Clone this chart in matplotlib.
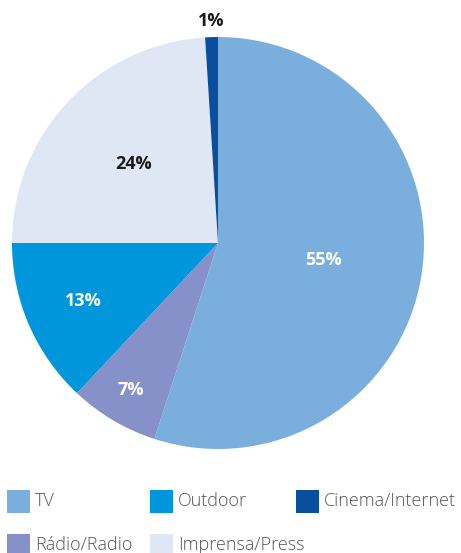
import numpy as np
import matplotlib.pyplot as plt
from matplotlib.patches import Rectangle

# media share by channel
labels = ["TV", "Rádio/Radio", "Outdoor", "Imprensa/Press", "Cinema/Internet"]
shares = [55, 7, 13, 24, 1]
colors = ["#7aafdd", "#8591c8", "#0096db", "#dfe6f4", "#0a4f9e"]
text_colors = ["white", "white", "white", "#1a1a1a", "#1a1a1a"]
label_r = [0.52, 0.83, 0.71, 0.56, 1.08]

W, H = 461, 553
fig = plt.figure(figsize=(W / 100, H / 100), dpi=100)
ax = fig.add_axes([12 / W, (H - 243 - 206) / H, 412 / W, 412 / H])

wedges, _ = ax.pie(shares, colors=colors, startangle=90, counterclock=False,
                   radius=1.0, wedgeprops=dict(linewidth=0))
ax.set_xlim(-1, 1)
ax.set_ylim(-1, 1)
ax.set_aspect("equal")
ax.axis("off")

for w, v, c, r in zip(wedges, shares, text_colors, label_r):
    ang = np.deg2rad((w.theta1 + w.theta2) / 2)
    ax.text(r * np.cos(ang), r * np.sin(ang), f"{v}%", ha="center", va="center",
            color=c, fontsize=13, fontweight="bold", family="Open Sans",
            clip_on=False)

# legend laid out by hand in two rows
legend_pos = {"TV": (7, 501), "Outdoor": (150, 501), "Cinema/Internet": (296, 501),
              "Rádio/Radio": (7, 545), "Imprensa/Press": (150, 545)}
sq = 23
for name, col in zip(labels, colors):
    x, y = legend_pos[name]
    fig.add_artist(Rectangle((x / W, (H - y - sq / 2) / H), sq / W, sq / H,
                             transform=fig.transFigure, facecolor=col,
                             edgecolor="none"))
    fig.text((x + sq + 5) / W, (H - y) / H, name, ha="left", va="center",
             fontsize=13, color="#555555", family="Open Sans", fontweight="light")

fig.savefig("out.png", dpi=100)
